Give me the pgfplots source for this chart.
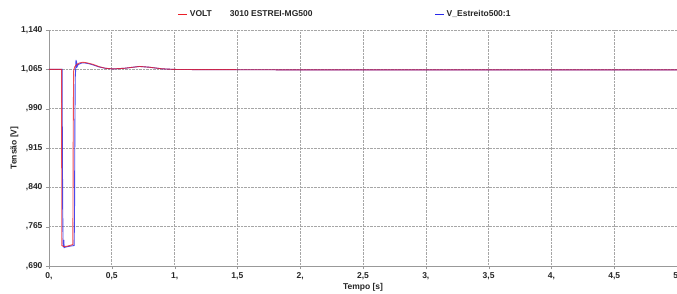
\documentclass[border=0pt]{standalone}
\usepackage{fontspec}
\setmainfont{Liberation Sans}
\usepackage{pgfplots}
\pgfplotsset{compat=1.18}
\definecolor{vred}{RGB}{235,30,40}
\definecolor{vblue}{RGB}{40,40,235}
\begin{document}
\begin{tikzpicture}
\begin{axis}[
  scale only axis, width=628pt, height=236pt,
  xmin=0, xmax=5, ymin=0.690, ymax=1.140,
  axis x line*=bottom, axis y line*=left,
  axis line style={gray!80, line width=0.8pt},
  tick style={gray!80}, tick align=outside, major tick length=3pt,
  xtick={0,0.5,...,5}, xticklabels={0{,},0{,}5,1{,},1{,}5,2{,},2{,}5,3{,},3{,}5,4{,},4{,}5,5{,}},
  ytick={0.690,0.765,0.840,0.915,0.990,1.065,1.140},
  yticklabels={{,}690,{,}765,{,}840,{,}915,{,}990,1{,}065,1{,}140},
  ticklabel style={font=\fontsize{8.5}{10}\selectfont\bfseries, text=black!85},
  grid=major, grid style={densely dotted, gray!70, line width=0.6pt},
  xlabel={Tempo [s]}, ylabel={Tensão [V]},
  label style={font=\fontsize{8.5}{10}\selectfont\bfseries, text=black!85},
  xlabel style={yshift=3pt}, ylabel style={yshift=-4pt},
  legend columns=2,
  legend style={at={(rel axis cs:0.205,1.0)}, anchor=south west, yshift=10pt, draw=none, fill=none,
    font=\fontsize{8.5}{10}\selectfont\bfseries, text=black!85, inner sep=0pt,
    /tikz/every even column/.append style={column sep=0pt}},
  legend image code/.code={\draw[#1, line width=0.9pt] (0pt,0pt) -- (9pt,0pt);},
  clip=true,
]
\addlegendimage{vred, line width=1pt}
\addlegendentry{\makebox[243pt][l]{VOLT\hspace{18pt}3010 ESTREI-MG500}}
\addlegendimage{vblue, line width=1pt}
\addlegendentry{V\_Estreito500:1}
\addplot[vblue, line width=0.9pt, opacity=0.85, forget plot] coordinates {
(0,1.065) (0.104,1.065) (0.106,0.95) (0.109,0.80) (0.112,0.735) (0.115,0.726) (0.118,0.740) (0.121,0.725) (0.13,0.726) (0.15,0.727) (0.17,0.728) (0.20,0.729) (0.203,0.78) (0.206,0.95) (0.209,1.05) (0.212,1.062) (0.215,1.083) (0.218,1.068) (0.222,1.076) (0.226,1.071) (0.232,1.074) (0.24,1.075) (0.26,1.077) (0.29,1.077) (0.33,1.075) (0.40,1.0695) (0.45,1.067) (0.51,1.0658) (0.60,1.067) (0.72,1.0705) (0.80,1.069) (0.90,1.066) (1.0,1.0648) (1.2,1.0645) (1.5,1.0643) (2,1.064) (3,1.064) (4,1.064) (5,1.064)};
\addplot[vred, line width=0.9pt, opacity=0.8, forget plot] coordinates {
(0,1.065) (0.100,1.065) (0.102,0.729) (0.12,0.727) (0.15,0.728) (0.19,0.731) (0.193,0.95) (0.196,1.062) (0.205,1.070) (0.22,1.074) (0.24,1.077) (0.27,1.0785) (0.30,1.0775) (0.35,1.0745) (0.40,1.070) (0.45,1.067) (0.51,1.0658) (0.60,1.067) (0.72,1.0705) (0.80,1.069) (0.90,1.066) (1.0,1.0648) (1.2,1.0645) (1.5,1.0643) (2,1.064) (3,1.064) (4,1.064) (5,1.064)};
\coordinate (ll) at (rel axis cs:0,0);
\coordinate (ur) at (rel axis cs:1,1);
\end{axis}
\pgfresetboundingbox
\path[use as bounding box] (ll) ++(-49pt,-27pt) rectangle (ur) ++(0pt,30pt);
\end{tikzpicture}
\end{document}
